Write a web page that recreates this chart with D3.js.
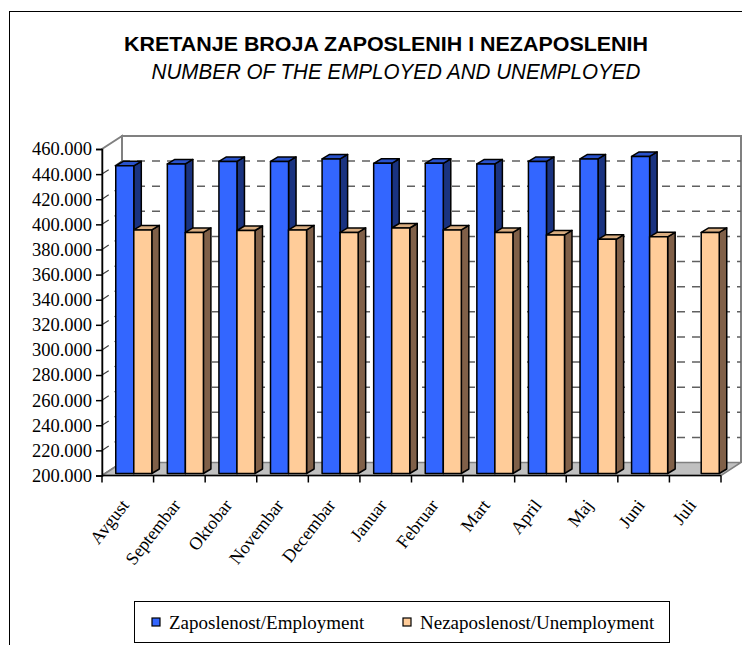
<!DOCTYPE html>
<html>
<head>
<meta charset="utf-8">
<script src="https://cdn.jsdelivr.net/npm/d3@7/dist/d3.min.js"></script>
<style>
  body { margin: 0; background: #fff; }
  svg { display: block; }
</style>
</head>
<body>
<svg id="chart" width="742" height="645"></svg>
<script>
// data
var months = ["Avgust", "Septembar", "Oktobar", "Novembar", "Decembar", "Januar",
              "Februar", "Mart", "April", "Maj", "Juni", "Juli"];
var employed = [445000, 446500, 448500, 448500, 450500, 447000,
                447000, 446500, 448500, 450500, 452500, null];
var unemployed = [394000, 392000, 393500, 394000, 392000, 395500,
                  394000, 392000, 390000, 386500, 388500, 392000];
var yTicks = [200000, 220000, 240000, 260000, 280000, 300000, 320000,
              340000, 360000, 380000, 400000, 420000, 440000, 460000];
var seriesNames = ["Zaposlenost/Employment", "Nezaposlenost/Unemployment"];

var svg = d3.select("#chart");

// plot geometry
var plotLeft = 102, plotRight = 721, plotTop = 149, plotBottom = 475.5;
var depth = {x: 20, y: -13};      // wall depth
var barOff = {x: 6, y: -2};       // bars sit a little behind the front
var barDepth = {x: 7.5, y: -4.5};

var colors = [
  {front: "#3366FF", top: "#2952CC", side: "#1A3380"},
  {front: "#FFCC99", top: "#D9AD80", side: "#806048"}
];

var xScale = d3.scaleBand().domain(months).range([plotLeft, plotRight]);
var xSeries = d3.scaleBand().domain([0, 1]).range([0, xScale.bandwidth()])
    .paddingInner(0).paddingOuter(0.43);
var yScale = d3.scaleLinear().domain([200000, 460000]).range([plotBottom, plotTop]);

var nl = d3.formatLocale({decimal: ",", thousands: ".", grouping: [3], currency: ["", ""]});
var fmt = nl.format(",d");

// outer frame
svg.append("rect")
    .attr("x", 9.5).attr("y", 11.5)
    .attr("width", 800).attr("height", 700)
    .style("fill", "none").style("stroke", "#000").style("stroke-width", 1);

// titles
svg.append("text")
    .attr("x", 386).attr("y", 51)
    .attr("text-anchor", "middle")
    .attr("textLength", 524).attr("lengthAdjust", "spacingAndGlyphs")
    .style("font-family", "Liberation Sans, Arial, sans-serif")
    .style("font-weight", "bold")
    .style("font-size", "21px")
    .text("KRETANJE BROJA ZAPOSLENIH I NEZAPOSLENIH");

svg.append("text")
    .attr("x", 396).attr("y", 79)
    .attr("text-anchor", "middle")
    .attr("textLength", 489).attr("lengthAdjust", "spacingAndGlyphs")
    .style("font-family", "Liberation Sans, Arial, sans-serif")
    .style("font-style", "italic")
    .style("font-size", "22px")
    .text("NUMBER OF THE EMPLOYED AND UNEMPLOYED");

// walls and floor
var y0 = yScale(200000), y1 = yScale(460000);
svg.append("path")
    .attr("d", "M" + plotLeft + "," + y0 + "L" + plotLeft + "," + y1 +
               "L" + (plotLeft + depth.x) + "," + (y1 + depth.y) +
               "L" + (plotLeft + depth.x) + "," + (y0 + depth.y) + "Z")
    .style("fill", "#fff").style("stroke", "#808080").style("stroke-width", 2);

svg.append("path")
    .attr("d", "M" + (plotLeft + depth.x) + "," + (y0 + depth.y) +
               "L" + (plotLeft + depth.x) + "," + (y1 + depth.y) +
               "L" + (plotRight + depth.x) + "," + (y1 + depth.y) +
               "L" + (plotRight + depth.x) + "," + (y0 + depth.y))
    .style("fill", "#fff").style("stroke", "#808080").style("stroke-width", 2);

svg.append("path")
    .attr("d", "M" + plotLeft + "," + y0 +
               "L" + (plotLeft + depth.x) + "," + (y0 + depth.y) +
               "L" + (plotRight + depth.x) + "," + (y0 + depth.y) +
               "L" + plotRight + "," + y0 + "Z")
    .style("fill", "#C0C0C0").style("stroke", "#808080").style("stroke-width", 1.5);

// gridlines on the back wall and side wall
var gridTicks = yTicks.slice(1, yTicks.length - 1);
svg.selectAll(".grid")
    .data(gridTicks)
    .enter().append("line")
    .attr("class", "grid")
    .attr("x1", plotLeft + depth.x).attr("x2", plotRight + depth.x)
    .attr("y1", function(d){ return yScale(d) + depth.y; })
    .attr("y2", function(d){ return yScale(d) + depth.y; })
    .style("stroke", "#606060").style("stroke-width", 1.5)
    .style("stroke-dasharray", "8,7");

svg.selectAll(".sidegrid")
    .data(gridTicks)
    .enter().append("line")
    .attr("class", "sidegrid")
    .attr("x1", plotLeft).attr("x2", plotLeft + depth.x)
    .attr("y1", function(d){ return yScale(d); })
    .attr("y2", function(d){ return yScale(d) + depth.y; })
    .style("stroke", "#404040").style("stroke-width", 1.2)
    .style("stroke-dasharray", "8,7");

// bars
var bars = svg.append("g");
months.forEach(function(m, i){
    [employed[i], unemployed[i]].forEach(function(v, s){
        if (v == null) { return; }
        var x = xScale(m) + xSeries(s) + barOff.x;
        var w = xSeries.bandwidth();
        var yt = yScale(v) + barOff.y;
        var yb = yScale(200000) + barOff.y;
        var dx = barDepth.x, dy = barDepth.y;
        var g = bars.append("g")
            .style("stroke", "#000").style("stroke-width", 1.5)
            .style("stroke-linejoin", "round");
        g.append("path")
            .attr("d", "M" + (x + w) + "," + yt + "L" + (x + w + dx) + "," + (yt + dy) +
                       "L" + (x + w + dx) + "," + (yb + dy) + "L" + (x + w) + "," + yb + "Z")
            .style("fill", colors[s].side);
        g.append("path")
            .attr("d", "M" + x + "," + yt + "L" + (x + dx) + "," + (yt + dy) +
                       "L" + (x + w + dx) + "," + (yt + dy) + "L" + (x + w) + "," + yt + "Z")
            .style("fill", colors[s].top);
        g.append("rect")
            .attr("x", x).attr("y", yt)
            .attr("width", w).attr("height", yb - yt)
            .style("fill", colors[s].front);
    });
});

// y axis
var yAxis = d3.axisLeft(yScale).tickValues(yTicks).tickFormat(fmt).tickSize(6).tickPadding(4);
var yg = svg.append("g")
    .attr("transform", "translate(" + plotLeft + ",0)")
    .call(yAxis);
yg.select(".domain").style("stroke", "#000").style("stroke-width", 1.5);
yg.selectAll(".tick line").style("stroke", "#000").style("stroke-width", 1.5);
yg.selectAll(".tick text")
    .style("font-family", "Liberation Serif, Times New Roman, serif")
    .style("font-size", "18.5px")
    .style("fill", "#000");

// x axis
var xAxis = d3.axisBottom(xScale).tickSize(0).tickPadding(0);
var xg = svg.append("g")
    .attr("transform", "translate(0," + plotBottom + ")")
    .call(xAxis);
xg.select(".domain").remove();
xg.append("line")
    .attr("x1", plotLeft).attr("x2", plotRight)
    .style("stroke", "#000").style("stroke-width", 1.5);
xg.selectAll(".bound")
    .data(months.concat(["end"]))
    .enter().append("line")
    .attr("class", "bound")
    .attr("x1", function(d, i){ return plotLeft + i * xScale.step(); })
    .attr("x2", function(d, i){ return plotLeft + i * xScale.step(); })
    .attr("y1", 0).attr("y2", 7)
    .style("stroke", "#000").style("stroke-width", 1.5);
xg.selectAll(".tick text")
    .attr("x", 0).attr("y", 0).attr("dy", 0)
    .attr("transform", "translate(2,30) rotate(-52)")
    .style("text-anchor", "end")
    .style("font-family", "Liberation Serif, Times New Roman, serif")
    .style("font-size", "18px")
    .style("fill", "#000");

// legend
var legend = svg.append("g");
legend.append("rect")
    .attr("x", 134.5).attr("y", 601.5)
    .attr("width", 535).attr("height", 41)
    .style("fill", "#fff").style("stroke", "#000").style("stroke-width", 1);
var legendX = [152, 403];
seriesNames.forEach(function(name, s){
    legend.append("rect")
        .attr("x", legendX[s]).attr("y", 618)
        .attr("width", 8).attr("height", 8)
        .style("fill", colors[s].front)
        .style("stroke", "#000").style("stroke-width", 1.2);
    legend.append("text")
        .attr("x", legendX[s] + 17).attr("y", 622)
        .attr("dy", "0.35em")
        .style("font-family", "Liberation Serif, Times New Roman, serif")
        .style("font-size", "19px")
        .text(name);
});
</script>
</body>
</html>
